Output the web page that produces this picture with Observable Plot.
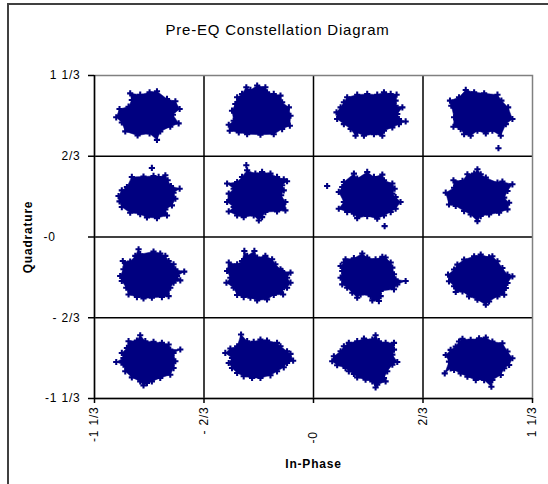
<!DOCTYPE html>
<html><head><meta charset="utf-8">
<script src="https://cdn.jsdelivr.net/npm/d3@7"></script>
<script src="https://cdn.jsdelivr.net/npm/@observablehq/plot@0.6"></script>
<style>
html,body{margin:0;padding:0;background:#fff;}
#wrap{position:relative;width:548px;height:484px;overflow:hidden;}
#wrap svg{position:absolute;left:0;top:0;}
#border{position:absolute;left:6.5px;top:3px;width:600px;height:600px;border-left:2px solid #404040;border-top:2px solid #404040;}
svg text{letter-spacing:0.8px;}
</style></head><body>
<div id="wrap"></div>
<script>
// Tick values and labels (fraction format as in the reference)
const tickValues = [-4/3, -2/3, 0, 2/3, 4/3];
const xTickLabels = ["-1 1/3", "- 2/3", "-0\u00a0\u00a0\u00a0\u00a0\u00a0\u00a0", "2/3", "1 1/3"];
const yTickLabels = ["-1 1/3", "- 2/3", "-0\u00a0\u00a0\u00a0\u00a0\u00a0\u00a0", "2/3", "1 1/3"];
const gridValues = [-2/3, 0, 2/3];
const title = "Pre-EQ Constellation Diagram";
const xTitle = "In-Phase";
const yTitle = "Quadrature";

// Outline points (In-Phase, Quadrature) of each received cluster
const R1C1 = [[-1.116,1.186],[-1.055,1.175],[-0.998,1.195],[-0.953,1.203],[-0.892,1.140],[-0.841,1.120],[-0.815,1.057],[-0.856,1.010],[-0.821,0.938],[-0.872,0.910],[-0.933,0.872],[-0.953,0.802],[-0.998,0.855],[-1.071,0.838],[-1.146,0.872],[-1.167,0.946],[-1.201,0.988],[-1.181,1.057],[-1.126,1.076],[-1.106,1.131]];
const R1C2 = [[-0.409,1.236],[-0.384,1.214],[-0.343,1.250],[-0.293,1.236],[-0.283,1.195],[-0.242,1.181],[-0.201,1.167],[-0.191,1.112],[-0.150,1.070],[-0.140,1.001],[-0.144,0.919],[-0.191,0.891],[-0.242,0.849],[-0.323,0.844],[-0.404,0.849],[-0.455,0.863],[-0.510,0.877],[-0.516,0.927],[-0.486,0.960],[-0.496,1.043],[-0.476,1.098],[-0.465,1.153],[-0.435,1.181]];
const R1C3 = [[0.205,1.153],[0.266,1.175],[0.327,1.181],[0.388,1.175],[0.429,1.195],[0.470,1.181],[0.506,1.175],[0.500,1.126],[0.500,1.084],[0.541,1.070],[0.510,1.015],[0.520,0.974],[0.561,0.954],[0.520,0.932],[0.480,0.905],[0.429,0.877],[0.419,0.836],[0.368,0.849],[0.307,0.836],[0.266,0.863],[0.256,0.836],[0.226,0.891],[0.185,0.932],[0.144,0.974],[0.140,1.029],[0.165,1.070],[0.185,1.112]];
const R1C4 = [[0.831,1.126],[0.886,1.153],[0.927,1.214],[0.978,1.195],[1.039,1.186],[1.120,1.175],[1.144,1.126],[1.185,1.070],[1.211,0.974],[1.171,0.932],[1.140,0.836],[1.089,0.877],[1.049,0.855],[0.998,0.877],[0.957,0.836],[0.917,0.849],[0.896,0.891],[0.852,0.910],[0.856,0.988],[0.839,1.084]];
const R2C1 = [[-1.106,0.496],[-1.035,0.499],[-0.974,0.504],[-0.943,0.496],[-0.902,0.510],[-0.888,0.468],[-0.868,0.421],[-0.815,0.399],[-0.852,0.366],[-0.841,0.316],[-0.862,0.261],[-0.902,0.228],[-0.892,0.178],[-0.953,0.156],[-1.014,0.162],[-1.055,0.189],[-1.116,0.200],[-1.167,0.247],[-1.181,0.294],[-1.187,0.338],[-1.167,0.385],[-1.136,0.413]];
const R2C2 = [[-0.404,0.551],[-0.354,0.523],[-0.313,0.537],[-0.262,0.523],[-0.222,0.496],[-0.181,0.476],[-0.161,0.460],[-0.191,0.427],[-0.181,0.385],[-0.197,0.344],[-0.171,0.289],[-0.171,0.220],[-0.222,0.211],[-0.293,0.206],[-0.313,0.164],[-0.333,0.137],[-0.364,0.178],[-0.425,0.164],[-0.465,0.178],[-0.516,0.211],[-0.486,0.247],[-0.526,0.289],[-0.516,0.358],[-0.486,0.399],[-0.526,0.441],[-0.465,0.454],[-0.435,0.496]];
const R2C3 = [[0.185,0.454],[0.246,0.523],[0.266,0.482],[0.327,0.537],[0.368,0.496],[0.419,0.515],[0.429,0.468],[0.480,0.441],[0.494,0.399],[0.480,0.358],[0.500,0.330],[0.530,0.289],[0.500,0.233],[0.470,0.206],[0.429,0.178],[0.388,0.151],[0.327,0.173],[0.266,0.156],[0.246,0.192],[0.205,0.206],[0.154,0.233],[0.185,0.289],[0.154,0.372],[0.175,0.413]];
const R2C4 = [[0.998,0.559],[1.018,0.518],[1.049,0.490],[1.120,0.449],[1.150,0.457],[1.211,0.435],[1.181,0.380],[1.161,0.325],[1.191,0.283],[1.181,0.228],[1.130,0.200],[1.069,0.186],[1.018,0.173],[0.998,0.131],[0.957,0.186],[0.917,0.214],[0.866,0.256],[0.825,0.269],[0.805,0.366],[0.856,0.407],[0.852,0.468],[0.907,0.463],[0.937,0.518],[0.978,0.523]];
const R3C1 = [[-1.065,-0.101],[-1.055,-0.142],[-0.974,-0.120],[-0.933,-0.137],[-0.902,-0.156],[-0.882,-0.198],[-0.852,-0.225],[-0.841,-0.267],[-0.787,-0.286],[-0.831,-0.322],[-0.811,-0.358],[-0.852,-0.377],[-0.872,-0.419],[-0.882,-0.488],[-0.923,-0.496],[-0.984,-0.501],[-1.035,-0.507],[-1.075,-0.496],[-1.126,-0.474],[-1.140,-0.419],[-1.167,-0.363],[-1.177,-0.322],[-1.157,-0.267],[-1.161,-0.198],[-1.116,-0.203],[-1.085,-0.156]];
const R3C2 = [[-0.421,-0.115],[-0.404,-0.156],[-0.360,-0.115],[-0.343,-0.170],[-0.293,-0.156],[-0.252,-0.184],[-0.232,-0.225],[-0.201,-0.267],[-0.191,-0.280],[-0.140,-0.294],[-0.161,-0.336],[-0.140,-0.377],[-0.161,-0.419],[-0.191,-0.432],[-0.185,-0.474],[-0.242,-0.479],[-0.283,-0.515],[-0.343,-0.523],[-0.384,-0.501],[-0.425,-0.496],[-0.465,-0.479],[-0.486,-0.419],[-0.530,-0.377],[-0.506,-0.336],[-0.526,-0.280],[-0.516,-0.211],[-0.465,-0.225],[-0.435,-0.198]];
const R3C3 = [[0.195,-0.184],[0.246,-0.175],[0.297,-0.137],[0.327,-0.170],[0.378,-0.184],[0.419,-0.164],[0.439,-0.170],[0.470,-0.211],[0.480,-0.253],[0.490,-0.308],[0.500,-0.349],[0.561,-0.363],[0.510,-0.391],[0.490,-0.432],[0.409,-0.446],[0.409,-0.488],[0.398,-0.529],[0.358,-0.523],[0.348,-0.488],[0.287,-0.474],[0.266,-0.501],[0.236,-0.460],[0.205,-0.419],[0.175,-0.391],[0.165,-0.336],[0.175,-0.280],[0.165,-0.239],[0.185,-0.211]];
const R3C4 = [[0.917,-0.186],[0.978,-0.159],[1.018,-0.145],[1.069,-0.167],[1.089,-0.159],[1.120,-0.200],[1.150,-0.256],[1.181,-0.311],[1.211,-0.325],[1.181,-0.380],[1.171,-0.421],[1.161,-0.477],[1.120,-0.490],[1.069,-0.532],[1.049,-0.559],[0.998,-0.518],[0.947,-0.490],[0.907,-0.449],[0.866,-0.454],[0.856,-0.407],[0.825,-0.366],[0.819,-0.311],[0.856,-0.269],[0.876,-0.228]];
const R4C1 = [[-1.126,-0.860],[-1.075,-0.855],[-1.055,-0.811],[-1.024,-0.860],[-0.974,-0.866],[-0.923,-0.874],[-0.882,-0.888],[-0.872,-0.929],[-0.811,-0.929],[-0.852,-0.957],[-0.841,-1.026],[-0.852,-1.082],[-0.872,-1.137],[-0.933,-1.164],[-0.984,-1.192],[-1.014,-1.206],[-1.035,-1.225],[-1.055,-1.192],[-1.106,-1.159],[-1.146,-1.109],[-1.157,-1.054],[-1.201,-1.032],[-1.157,-0.999],[-1.167,-0.957],[-1.136,-0.916]];
const R4C2 = [[-0.441,-0.805],[-0.404,-0.860],[-0.364,-0.866],[-0.323,-0.847],[-0.283,-0.855],[-0.222,-0.874],[-0.201,-0.902],[-0.161,-0.943],[-0.140,-0.965],[-0.124,-1.021],[-0.161,-1.040],[-0.181,-1.076],[-0.222,-1.109],[-0.262,-1.142],[-0.323,-1.164],[-0.374,-1.164],[-0.425,-1.150],[-0.465,-1.123],[-0.496,-1.082],[-0.516,-1.040],[-0.496,-0.999],[-0.537,-0.957],[-0.506,-0.921],[-0.465,-0.902]];
const R4C3 = [[0.185,-0.902],[0.215,-0.874],[0.266,-0.860],[0.307,-0.838],[0.358,-0.847],[0.378,-0.811],[0.398,-0.860],[0.439,-0.874],[0.490,-0.874],[0.490,-0.930],[0.480,-0.971],[0.510,-1.032],[0.480,-1.054],[0.449,-1.109],[0.429,-1.164],[0.439,-1.192],[0.388,-1.220],[0.378,-1.242],[0.358,-1.192],[0.317,-1.178],[0.266,-1.159],[0.246,-1.131],[0.215,-1.109],[0.195,-1.082],[0.144,-1.059],[0.114,-1.026],[0.124,-0.985],[0.165,-0.943]];
const R4C4 = [[0.886,-0.863],[0.907,-0.841],[0.957,-0.849],[1.008,-0.836],[1.049,-0.830],[1.089,-0.863],[1.150,-0.877],[1.181,-0.946],[1.211,-1.001],[1.191,-1.057],[1.161,-1.084],[1.140,-1.139],[1.089,-1.181],[1.083,-1.236],[1.039,-1.181],[0.988,-1.181],[0.937,-1.153],[0.896,-1.126],[0.856,-1.098],[0.835,-1.084],[0.799,-1.126],[0.825,-1.029],[0.805,-0.974],[0.835,-0.932],[0.866,-0.905]];
// Isolated samples away from the clusters
const outliers = [[1.126,0.733],[-0.984,0.570],[-0.409,0.593],[0.083,0.421],[0.433,0.090]];

const clusters = [R1C1,R1C2,R1C3,R1C4,R2C1,R2C2,R2C3,R2C4,R3C1,R3C2,R3C3,R3C4,R4C1,R4C2,R4C3,R4C4];
const pts = clusters.flatMap((c, k) => c.map(([x, y]) => ({k, x, y})));
const lone = outliers.map(([x, y]) => ({x, y}));
const navy = "#000080";
const font = "'Liberation Sans', Arial, sans-serif";

const chart = Plot.plot({
  width: 548, height: 484,
  marginLeft: 94, marginRight: 16, marginTop: 75, marginBottom: 86,
  style: {background: "transparent", fontFamily: font, fontSize: "12px", color: "#000", overflow: "visible"},
  x: {domain: [-4/3, 4/3]},
  y: {domain: [-4/3, 4/3]},
  marks: [
    Plot.line(pts, {x: "x", y: "y", z: "k", curve: "linear-closed", fill: navy, stroke: navy, strokeWidth: 0.5}),
    Plot.dot(pts, {x: "x", y: "y", symbol: "cross", r: 2.6, fill: navy, stroke: "none"}),
    Plot.dot(lone, {x: "x", y: "y", symbol: "cross", r: 2.6, fill: navy, stroke: "none"}),
    Plot.ruleX(gridValues, {stroke: "#000", strokeWidth: 1.5}),
    Plot.ruleY(gridValues, {stroke: "#000", strokeWidth: 1.5}),
    Plot.frame({stroke: "#808080", strokeWidth: 1.5}),
    Plot.ruleX([-4/3], {stroke: "#000", strokeWidth: 1.5}),
    Plot.ruleY([-4/3], {stroke: "#000", strokeWidth: 1.5}),
    Plot.axisX({ticks: tickValues, tickFormat: d => xTickLabels[tickValues.indexOf(d)], tickSize: 5, tickPadding: 3, tickRotate: -90, fontSize: 12, stroke: "#000", strokeWidth: 1.5, label: null}),
    Plot.axisY({ticks: tickValues, tickFormat: d => yTickLabels[tickValues.indexOf(d)], tickSize: 6, tickPadding: 8, fontSize: 12, stroke: "#000", strokeWidth: 1.5, label: null}),
    Plot.text([title], {text: d => d, frameAnchor: "top", lineAnchor: "middle", textAnchor: "middle", dx: -36, dy: -45, fontSize: 15, fill: "#000"}),
    Plot.text([xTitle], {text: d => d, frameAnchor: "bottom", lineAnchor: "middle", textAnchor: "middle", dy: 66, fontSize: 12, fontWeight: "bold", fill: "#000"}),
    Plot.text([yTitle], {text: d => d, frameAnchor: "left", lineAnchor: "middle", textAnchor: "middle", rotate: -90, dx: -66, fontSize: 12, fontWeight: "bold", fill: "#000"})
  ]
});
const wrap = document.getElementById("wrap");
wrap.appendChild(chart);
const border = document.createElement("div");
border.id = "border";
wrap.appendChild(border);
</script>
</body></html>
